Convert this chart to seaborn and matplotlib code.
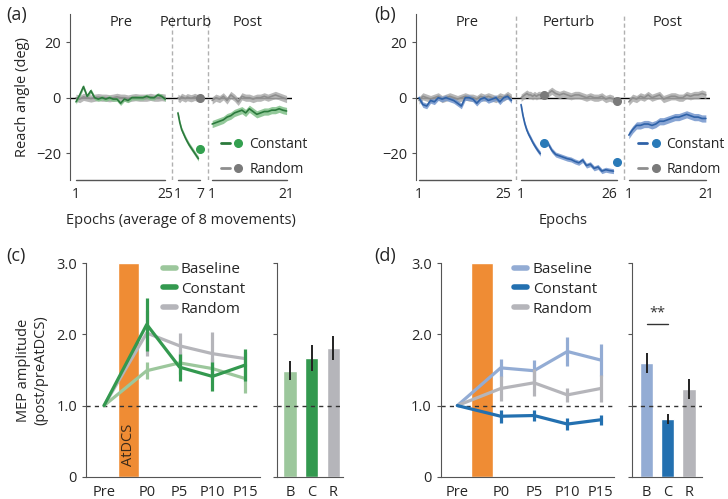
# Reach angle time courses (a, b) and MEP amplitude (c, d)

import numpy as np
import pandas as pd
import seaborn as sns
import matplotlib.pyplot as plt
from matplotlib.lines import Line2D
from matplotlib.legend_handler import HandlerTuple

sns.set_style('white')
plt.rcParams['font.family'] = ['Open Sans', 'DejaVu Sans']
plt.rcParams['font.size'] = 10.5

# ---------------- data: panel (a) ----------------
a_pre_const = [-1.5, 1, 4, 0.5, 2.5, 0, -0.5, 0, -0.5, 0, -0.5, -0.5, -2, -0.5, -1,
               0, 0, 0, 0, 0.5, 0, 0, 1, 0.5, -0.5]
a_pre_rand = [0, -0.5, 0.3, 0, -0.3, 0, 0.2, 0, 0, -0.2, 0, 0.3, 0, 0, -0.3,
              0, 0.2, 0, 0, 0, 0.3, 0, 0, 0.2, 0]
a_pert_ep = [1, 1.5, 2, 2.5, 3, 3.5, 4, 4.5, 5, 5.5, 6, 6.5]
a_pert_const = [-5.5, -9, -11.5, -13, -14.5, -15.8, -17, -18, -19, -20, -21, -22]
a_pert_rand = [0, -0.5, 0.3, 0, -0.3, 0.2, 0, -0.2, 0, 0.3, 0, -0.2]
a_dot_const, a_dot_rand = -18.5, 0.0
a_post_const = [-9.5, -9, -8.5, -8, -7, -6.5, -5.5, -5, -4.5, -5.5, -4, -5, -6, -5.5,
                -5, -5, -4.5, -4.5, -4, -4.5, -4.8]
a_post_rand = [-1, 0, -0.5, 0.5, -1, 1, 0, -1.5, 0.5, 0, 0, -0.5, 0, 0, 0.5, 0, 0.5,
               1, 0.5, 0, -0.5]

# ---------------- data: panel (b) ----------------
b_pre_const = [0, -2.5, -3, -1, -1.5, 0, -0.5, 0, -0.5, -1, -2, -3, 0, 0, -0.5, -2,
               -0.5, 0, -1, -0.5, 0, -1.5, 0, 0.5, -1]
b_pre_rand = [-1, 0.5, 0, -0.5, 0, 0.5, -0.5, 0, 0.5, 0, -0.5, 0, 0.5, 0, 0, -0.5,
              0.5, 0, 0.5, 0, -0.5, 0.5, 0, 1, 0]
b_seg1_ep = [1, 1.5, 2, 2.5, 3, 3.5, 4, 4.5, 5, 5.5, 6]
b_seg1_const = [-2.5, -6.5, -9.5, -11.7, -13.3, -14.6, -16, -17.2, -18.3, -19.3, -20.2]
b_seg1_rand = [0, 0.5, 1, 1.5, 1, 1, 0.5, 1, 0.5, 1, 1]
b_seg2_ep = list(range(8, 26))
b_seg2_const = [-16.5, -19, -20.5, -21, -21.5, -22, -22.3, -23, -23.5, -22.5, -24.5,
                -24, -25.5, -25, -26.5, -26, -26.3, -26.5]
b_seg2_rand = [1.5, 2.5, 1.5, 1, 1.5, 1, 0.5, 1, 1, 0.5, 0, 0.5, 0, 0, 0.5, -0.5, 0, -0.5]
b_dots_ep = [7, 26]
b_dots_const = [-16.5, -23.3]
b_dots_rand = [1.0, -1.3]
b_post_const = [-13.5, -11.5, -10, -10, -9.5, -9.5, -10, -9.5, -8.5, -8.5, -8, -7.5,
                -7, -7, -6.5, -6, -6.5, -7, -7, -7.5, -7.5]
b_post_rand = [-1.5, 0, -0.5, 0.5, 0, 1, 0, 0.5, 1, -0.5, 0, 0.5, 0.5, 0, 0, 1, 0.5,
               1, 1, 1.5, 1]
band_const, band_rand = 1.3, 1.3

# ---------------- data: panels (c, d) ----------------
times = ['Pre', 'P0', 'P5', 'P10', 'P15']
c_base = [1.0, 1.49, 1.60, 1.52, 1.38]
c_base_err = [0, 0.12, 0.15, 0.15, 0.20]
c_const = [1.0, 2.14, 1.54, 1.41, 1.57]
c_const_err = [0, 0.37, 0.19, 0.20, 0.22]
c_rand = [1.0, 2.02, 1.84, 1.73, 1.66]
c_rand_err = [0, 0.32, 0.18, 0.31, 0.10]
d_base = [1.0, 1.53, 1.49, 1.76, 1.64]
d_base_err = [0, 0.13, 0.15, 0.21, 0.23]
d_const = [1.0, 0.85, 0.86, 0.74, 0.80]
d_const_err = [0, 0.09, 0.08, 0.08, 0.07]
d_rand = [1.0, 1.24, 1.32, 1.15, 1.24]
d_rand_err = [0, 0.18, 0.19, 0.10, 0.19]

groups = ['B', 'C', 'R']
c_bars = [1.49, 1.67, 1.81]
c_bars_err = [0.13, 0.18, 0.17]
d_bars = [1.60, 0.81, 1.23]
d_bars_err = [0.14, 0.07, 0.14]

# colours
GREEN_D, GREEN_F, GREEN = '#2b7a3c', '#80c089', '#33a04f'
BLUE_D, BLUE_F, BLUE = '#2f62a8', '#7396cd', '#2a7ab8'
GRAY_L, GRAY_F, GRAY_DOT = '#8e8e8e', '#ababab', '#7a7a7a'
SPINE = '#555555'
ORANGE = '#ef8c34'
c_cols = ['#9cc79c', '#33994f', '#b5b5ba']
d_cols = ['#93acd4', '#2370b0', '#b5b5ba']

fig = plt.figure(figsize=(7.28, 4.99), dpi=100)
W, H = 728, 499


def px_axes(x0, y0, x1, y1):
    return fig.add_axes([x0 / W, 1 - y1 / H, (x1 - x0) / W, (y1 - y0) / H])


def trace(ax, x, y, err, lc, fc, lw=1.2):
    y = np.asarray(y, float)
    ax.fill_between(x, y - err, y + err, color=fc, lw=0, alpha=0.85, zorder=2)
    df = pd.DataFrame({'x': x, 'y': y})
    sns.lineplot(data=df, x='x', y='y', ax=ax, color=lc, lw=lw, legend=False, zorder=3)


def style_reach(ax, brackets, ticks, labels, dashes, titles, xlabel, right_labels=()):
    ax.set_ylim(-29.7, 30.2)
    ax.set_yticks([-20, 0, 20])
    ax.set_yticklabels(['\u221220', '0', '20'])
    for s in ['top', 'right', 'bottom']:
        ax.spines[s].set_visible(False)
    ax.spines['left'].set_color(SPINE)
    ax.axhline(0, color='black', lw=1, zorder=1)
    for xd in dashes:
        ax.axvline(xd, color='#b0b0b0', lw=1, ls=(0, (3, 2)), zorder=1)
    tr = ax.get_xaxis_transform()
    for a, b in brackets:
        ax.plot([a, b], [0, 0], transform=tr, color=SPINE, lw=1, clip_on=False)
    ax.set_xticks(ticks)
    ax.set_xticklabels(labels)
    ax.tick_params(axis='x', direction='in', length=4, color=SPINE, pad=5, labelsize=10)
    ax.tick_params(axis='y', direction='out', length=3, color=SPINE, left=True)
    for i, lab in enumerate(ax.get_xticklabels()):
        if i in right_labels:
            lab.set_ha('right')
    for xt, t in titles:
        ax.text(xt, 0.95, t, transform=tr, ha='center', va='center')
    ax.set_xlabel(xlabel, labelpad=8)
    ax.set_ylabel('')


def reach_legend(ax, lc, dc, anchor):
    h1 = (Line2D([], [], color=lc, lw=2), Line2D([], [], color=dc, marker='o', ls='none', ms=5.5))
    h2 = (Line2D([], [], color=GRAY_L, lw=2), Line2D([], [], color=GRAY_DOT, marker='o', ls='none', ms=5.5))
    ax.legend([h1, h2], ['Constant', 'Random'], handler_map={tuple: HandlerTuple(ndivide=None, pad=0.25)},
              loc='center left', bbox_to_anchor=anchor, frameon=False, handlelength=1.6,
              handletextpad=0.45, labelspacing=0.7, borderaxespad=0, borderpad=0, fontsize=10)


# ---------------- panel (a) ----------------
ax_a = px_axes(70, 14, 292, 180)
ax_a.set_xlim(-0.61, 59.06)
pre_ep = np.arange(1, 26)
post_ep = np.arange(1, 22)
off_pa, off_qa = 27.4, 36.6
trace(ax_a, pre_ep, a_pre_rand, band_rand, GRAY_L, GRAY_F)
trace(ax_a, pre_ep, a_pre_const, 0.8, GREEN_D, GREEN_F)
trace(ax_a, np.array(a_pert_ep) + off_pa, a_pert_rand, band_rand, GRAY_L, GRAY_F)
trace(ax_a, np.array(a_pert_ep) + off_pa, a_pert_const, 0.9, GREEN_D, GREEN_F)
trace(ax_a, post_ep + off_qa, a_post_rand, band_rand, GRAY_L, GRAY_F)
trace(ax_a, post_ep + off_qa, a_post_const, band_const, GREEN_D, GREEN_F)
ax_a.plot([7 + off_pa], [a_dot_rand], 'o', color=GRAY_DOT, ms=5.5, zorder=4)
ax_a.plot([7 + off_pa], [a_dot_const], 'o', color=GREEN, ms=5.5, zorder=4)
style_reach(ax_a, [(1, 25), (1 + off_pa, 7 + off_pa), (1 + off_qa, 21 + off_qa)],
            [1, 25, 1 + off_pa, 7 + off_pa, 1 + off_qa, 21 + off_qa],
            ['1', '25', '1', '7', '1', '21'], [26.9, 36.4],
            [(13, 'Pre'), (30.5, 'Perturb'), (47, 'Post')],
            'Epochs (average of 8 movements)')
ax_a.set_ylabel('Reach angle (deg)')
reach_legend(ax_a, GREEN_D, GREEN, (0.68, 0.14))

# ---------------- panel (b) ----------------
ax_b = px_axes(416, 14, 710, 180)
ax_b.set_xlim(0.22, 76.58)
off_pb, off_qb = 26.5, 54.5
trace(ax_b, pre_ep, b_pre_rand, band_rand, GRAY_L, GRAY_F)
trace(ax_b, pre_ep, b_pre_const, 1.0, BLUE_D, BLUE_F)
trace(ax_b, np.array(b_seg1_ep) + off_pb, b_seg1_rand, band_rand, GRAY_L, GRAY_F)
trace(ax_b, np.array(b_seg2_ep) + off_pb, b_seg2_rand, band_rand, GRAY_L, GRAY_F)
trace(ax_b, np.array(b_seg1_ep) + off_pb, b_seg1_const, 0.9, BLUE_D, BLUE_F)
trace(ax_b, np.array(b_seg2_ep) + off_pb, b_seg2_const, 0.9, BLUE_D, BLUE_F)
trace(ax_b, post_ep + off_qb, b_post_rand, band_rand, GRAY_L, GRAY_F)
trace(ax_b, post_ep + off_qb, b_post_const, band_const, BLUE_D, BLUE_F)
ax_b.plot(np.array(b_dots_ep) + off_pb, b_dots_rand, 'o', color=GRAY_DOT, ms=5.5, zorder=4)
ax_b.plot(np.array(b_dots_ep) + off_pb, b_dots_const, 'o', color=BLUE, ms=5.5, zorder=4)
style_reach(ax_b, [(1, 25), (1 + off_pb, 26 + off_pb), (1 + off_qb, 21 + off_qb)],
            [1, 25, 1 + off_pb, 26 + off_pb, 1 + off_qb, 21 + off_qb],
            ['1', '25', '1', '26', '1', '21'], [26.2, 54.2],
            [(13.5, 'Pre'), (40, 'Perturb'), (65.5, 'Post')], 'Epochs',
            right_labels=(1, 3))
reach_legend(ax_b, BLUE_D, BLUE, (0.755, 0.14))


# ---------------- panels (c, d) ----------------
tpos = [-1.3, 0, 1, 2, 3]


def mep_panel(ax, axb, series, cols, bars, bars_err, xl, xlb, leg_x):
    ax.bar([-0.56], [3.0], width=0.66, color=ORANGE, zorder=1)
    for name, vals, err, col in series:
        df = pd.DataFrame({'t': tpos, 'v': vals})
        sns.lineplot(data=df, x='t', y='v', ax=ax, color=col, lw=2.3, legend=False, zorder=3)
        ax.vlines(tpos[1:], np.array(vals[1:]) - np.array(err[1:]),
                  np.array(vals[1:]) + np.array(err[1:]), color=col, lw=2.3, zorder=3)
    ax.set_xlim(*xl)
    ax.set_ylim(0, 3)
    ax.set_xticks(tpos)
    ax.set_xticklabels(times)
    ax.set_yticks([0, 1, 2, 3])
    ax.set_yticklabels(['0', '1.0', '2.0', '3.0'])
    ax.axhline(1.0, color='#333333', lw=1, ls=(0, (3, 3)), zorder=2)
    # legend order Baseline / Constant / Random
    ax.legend([Line2D([], [], color=c, lw=4) for c in cols], ['Baseline', 'Constant', 'Random'],
              loc='upper left', bbox_to_anchor=(leg_x, 1.035), frameon=False, handlelength=0.85,
              handletextpad=0.35, labelspacing=0.32, borderaxespad=0, fontsize=11)

    dfb = pd.DataFrame({'g': groups, 'v': bars})
    sns.barplot(data=dfb, x='g', y='v', hue='g', palette=cols, ax=axb, width=0.62,
                errorbar=None, legend=False, saturation=1)
    axb.errorbar(range(3), bars, yerr=bars_err, fmt='none', ecolor='#222222', elinewidth=1.4,
                 capsize=0, zorder=4)
    axb.set_xlim(*xlb)
    axb.set_ylim(0, 3)
    axb.set_yticks([0, 1, 2, 3])
    axb.set_yticklabels([])
    axb.axhline(1.0, color='#333333', lw=1, ls=(0, (3, 3)), zorder=2)
    for a in (ax, axb):
        a.set_xlabel('')
        a.set_ylabel('')
        for s in ['top', 'right']:
            a.spines[s].set_visible(False)
        for s in ['left', 'bottom']:
            a.spines[s].set_color(SPINE)
        a.tick_params(axis='y', direction='out', length=3, color=SPINE, left=True)
        a.tick_params(axis='x', length=0, pad=6)


ax_c = px_axes(86, 263.3, 260, 476.7)
ax_cb = px_axes(276.7, 263.3, 343, 476.7)
mep_panel(ax_c, ax_cb,
          [('Baseline', c_base, c_base_err, c_cols[0]),
           ('Random', c_rand, c_rand_err, c_cols[2]),
           ('Constant', c_const, c_const_err, c_cols[1])],
          c_cols, c_bars, c_bars_err, (-1.85, 3.45), (-0.61, 2.44), 0.405)
ax_c.text(-0.56, 0.45, 'AtDCS', rotation=90, ha='center', va='center', color='#3a2a1a', fontsize=10.5)
ax_c.set_ylabel('MEP amplitude\n(post/preAtDCS)', labelpad=6)

ax_d = px_axes(440.7, 263.3, 614, 476.7)
ax_db = px_axes(632.3, 263.3, 702.3, 476.7)
mep_panel(ax_d, ax_db,
          [('Baseline', d_base, d_base_err, d_cols[0]),
           ('Random', d_rand, d_rand_err, d_cols[2]),
           ('Constant', d_const, d_const_err, d_cols[1])],
          d_cols, d_bars, d_bars_err, (-1.8, 3.4), (-0.68, 2.63), 0.39)
ax_db.plot([0, 1], [2.15, 2.15], color='#333333', lw=1)
ax_db.text(0.5, 2.2, '**', ha='center', va='bottom', color='#333333', fontsize=10.5)

# panel letters
for x, y, t in [(6, 6, '(a)'), (374, 6, '(b)'), (6, 247, '(c)'), (374, 247, '(d)')]:
    fig.text(x / W, 1 - y / H, t, ha='left', va='top', fontsize=13)

fig.savefig('out.png', dpi=100)
